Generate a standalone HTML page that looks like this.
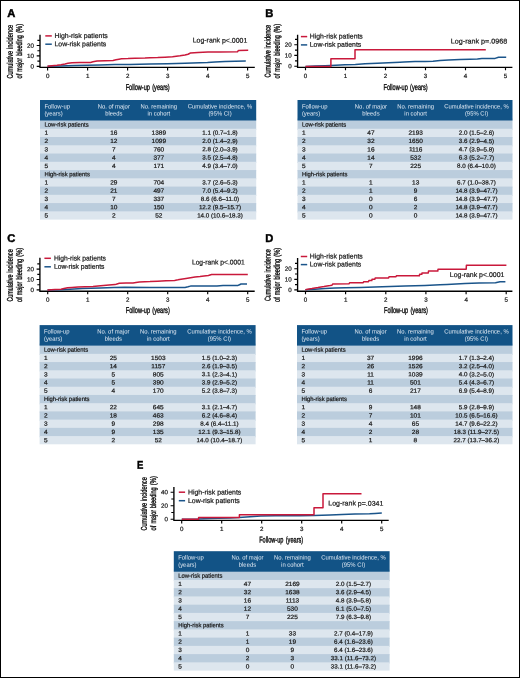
<!DOCTYPE html>
<html lang="en"><head><meta charset="utf-8"><title>Cumulative incidence of major bleeding</title>
<style>
html,body{margin:0;padding:0;background:#fff;}
body{width:520px;height:678px;position:relative;overflow:hidden;font-family:"Liberation Sans",sans-serif;}
#fig{position:absolute;left:0;top:0;width:520px;height:678px;will-change:transform;}
#fig text{font-family:"Liberation Sans",sans-serif;fill:#1a1a1a;stroke:#1a1a1a;stroke-width:0.22px;text-rendering:geometricPrecision;}
#fig g[fill] text{fill:inherit;stroke:none;}
#fig text.pl{font-weight:bold;fill:#000;stroke:#000;stroke-width:0.45px;}
#fig text.ti{fill:#111;stroke:#111;stroke-width:0.38px;}
#frame{position:absolute;left:0;top:0;width:518px;height:676px;border:1px solid #000;box-sizing:content-box;}
</style></head><body>
<svg id="fig" width="520" height="678" viewBox="0 0 520 678">
<g id="panel-A">
<rect x="40.0" y="118.50" width="216.2" height="11.46" fill="#bbcddd"/>
<rect x="40.0" y="128.76" width="216.2" height="9.46" fill="#dde6ee"/>
<rect x="40.0" y="137.02" width="216.2" height="9.46" fill="#bbcddd"/>
<rect x="40.0" y="145.28" width="216.2" height="9.46" fill="#dde6ee"/>
<rect x="40.0" y="153.53" width="216.2" height="9.46" fill="#bbcddd"/>
<rect x="40.0" y="161.79" width="216.2" height="9.46" fill="#dde6ee"/>
<rect x="40.0" y="170.05" width="216.2" height="9.46" fill="#bbcddd"/>
<rect x="40.0" y="178.31" width="216.2" height="9.46" fill="#dde6ee"/>
<rect x="40.0" y="186.57" width="216.2" height="9.46" fill="#bbcddd"/>
<rect x="40.0" y="194.82" width="216.2" height="9.46" fill="#dde6ee"/>
<rect x="40.0" y="203.08" width="216.2" height="9.46" fill="#bbcddd"/>
<rect x="40.0" y="211.34" width="216.2" height="8.26" fill="#dde6ee"/>
<rect x="40.0" y="100.0" width="216.2" height="20.5" fill="#125386"/>
<g fill="#dfe8f2">
<text transform="translate(44.40 108.40) rotate(0.05)" font-size="6.20" textLength="25.53" lengthAdjust="spacingAndGlyphs">Follow-up</text>
<text transform="translate(44.40 115.60) rotate(0.05)" font-size="6.20" textLength="18.33" lengthAdjust="spacingAndGlyphs">(years)</text>
<text transform="translate(113.80 108.40) rotate(0.05)" font-size="6.20" text-anchor="middle" textLength="32.08" lengthAdjust="spacingAndGlyphs">No. of major</text>
<text transform="translate(113.80 115.60) rotate(0.05)" font-size="6.20" text-anchor="middle" textLength="17.36" lengthAdjust="spacingAndGlyphs">bleeds</text>
<text transform="translate(158.80 108.40) rotate(0.05)" font-size="6.20" text-anchor="middle" textLength="36.67" lengthAdjust="spacingAndGlyphs">No. remaining</text>
<text transform="translate(158.80 115.60) rotate(0.05)" font-size="6.20" text-anchor="middle" textLength="22.59" lengthAdjust="spacingAndGlyphs">in cohort</text>
<text transform="translate(220.00 108.40) rotate(0.05)" font-size="6.20" text-anchor="middle" textLength="64.50" lengthAdjust="spacingAndGlyphs">Cumulative incidence, %</text>
<text transform="translate(220.00 115.60) rotate(0.05)" font-size="6.20" text-anchor="middle" textLength="23.24" lengthAdjust="spacingAndGlyphs">(95% CI)</text>
</g>
<text transform="translate(44.40 126.60) rotate(0.05)" font-size="6.20" textLength="44.19" lengthAdjust="spacingAndGlyphs">Low-risk patients</text>
<text transform="translate(44.40 134.86) rotate(0.05)" font-size="6.20" textLength="3.62" lengthAdjust="spacingAndGlyphs">1</text>
<text transform="translate(113.80 134.86) rotate(0.05)" font-size="6.20" text-anchor="middle" textLength="7.24" lengthAdjust="spacingAndGlyphs">16</text>
<text transform="translate(158.80 134.86) rotate(0.05)" font-size="6.20" text-anchor="middle" textLength="14.48" lengthAdjust="spacingAndGlyphs">1389</text>
<text transform="translate(220.00 134.86) rotate(0.05)" font-size="6.20" text-anchor="middle" textLength="35.33" lengthAdjust="spacingAndGlyphs">1.1 (0.7–1.8)</text>
<text transform="translate(44.40 143.12) rotate(0.05)" font-size="6.20" textLength="3.62" lengthAdjust="spacingAndGlyphs">2</text>
<text transform="translate(113.80 143.12) rotate(0.05)" font-size="6.20" text-anchor="middle" textLength="7.24" lengthAdjust="spacingAndGlyphs">12</text>
<text transform="translate(158.80 143.12) rotate(0.05)" font-size="6.20" text-anchor="middle" textLength="14.48" lengthAdjust="spacingAndGlyphs">1099</text>
<text transform="translate(220.00 143.12) rotate(0.05)" font-size="6.20" text-anchor="middle" textLength="35.33" lengthAdjust="spacingAndGlyphs">2.0 (1.4–2.9)</text>
<text transform="translate(44.40 151.38) rotate(0.05)" font-size="6.20" textLength="3.62" lengthAdjust="spacingAndGlyphs">3</text>
<text transform="translate(113.80 151.38) rotate(0.05)" font-size="6.20" text-anchor="middle" textLength="3.62" lengthAdjust="spacingAndGlyphs">7</text>
<text transform="translate(158.80 151.38) rotate(0.05)" font-size="6.20" text-anchor="middle" textLength="10.86" lengthAdjust="spacingAndGlyphs">760</text>
<text transform="translate(220.00 151.38) rotate(0.05)" font-size="6.20" text-anchor="middle" textLength="35.33" lengthAdjust="spacingAndGlyphs">2.8 (2.0–3.9)</text>
<text transform="translate(44.40 159.63) rotate(0.05)" font-size="6.20" textLength="3.62" lengthAdjust="spacingAndGlyphs">4</text>
<text transform="translate(113.80 159.63) rotate(0.05)" font-size="6.20" text-anchor="middle" textLength="3.62" lengthAdjust="spacingAndGlyphs">4</text>
<text transform="translate(158.80 159.63) rotate(0.05)" font-size="6.20" text-anchor="middle" textLength="10.86" lengthAdjust="spacingAndGlyphs">377</text>
<text transform="translate(220.00 159.63) rotate(0.05)" font-size="6.20" text-anchor="middle" textLength="35.33" lengthAdjust="spacingAndGlyphs">3.5 (2.5–4.8)</text>
<text transform="translate(44.40 167.89) rotate(0.05)" font-size="6.20" textLength="3.62" lengthAdjust="spacingAndGlyphs">5</text>
<text transform="translate(113.80 167.89) rotate(0.05)" font-size="6.20" text-anchor="middle" textLength="3.62" lengthAdjust="spacingAndGlyphs">4</text>
<text transform="translate(158.80 167.89) rotate(0.05)" font-size="6.20" text-anchor="middle" textLength="10.86" lengthAdjust="spacingAndGlyphs">171</text>
<text transform="translate(220.00 167.89) rotate(0.05)" font-size="6.20" text-anchor="middle" textLength="35.33" lengthAdjust="spacingAndGlyphs">4.9 (3.4–7.0)</text>
<text transform="translate(44.40 176.15) rotate(0.05)" font-size="6.20" textLength="45.50" lengthAdjust="spacingAndGlyphs">High-risk patients</text>
<text transform="translate(44.40 184.41) rotate(0.05)" font-size="6.20" textLength="3.62" lengthAdjust="spacingAndGlyphs">1</text>
<text transform="translate(113.80 184.41) rotate(0.05)" font-size="6.20" text-anchor="middle" textLength="7.24" lengthAdjust="spacingAndGlyphs">29</text>
<text transform="translate(158.80 184.41) rotate(0.05)" font-size="6.20" text-anchor="middle" textLength="10.86" lengthAdjust="spacingAndGlyphs">704</text>
<text transform="translate(220.00 184.41) rotate(0.05)" font-size="6.20" text-anchor="middle" textLength="35.33" lengthAdjust="spacingAndGlyphs">3.7 (2.6–5.3)</text>
<text transform="translate(44.40 192.67) rotate(0.05)" font-size="6.20" textLength="3.62" lengthAdjust="spacingAndGlyphs">2</text>
<text transform="translate(113.80 192.67) rotate(0.05)" font-size="6.20" text-anchor="middle" textLength="7.24" lengthAdjust="spacingAndGlyphs">21</text>
<text transform="translate(158.80 192.67) rotate(0.05)" font-size="6.20" text-anchor="middle" textLength="10.86" lengthAdjust="spacingAndGlyphs">497</text>
<text transform="translate(220.00 192.67) rotate(0.05)" font-size="6.20" text-anchor="middle" textLength="35.33" lengthAdjust="spacingAndGlyphs">7.0 (5.4–9.2)</text>
<text transform="translate(44.40 200.92) rotate(0.05)" font-size="6.20" textLength="3.62" lengthAdjust="spacingAndGlyphs">3</text>
<text transform="translate(113.80 200.92) rotate(0.05)" font-size="6.20" text-anchor="middle" textLength="3.62" lengthAdjust="spacingAndGlyphs">7</text>
<text transform="translate(158.80 200.92) rotate(0.05)" font-size="6.20" text-anchor="middle" textLength="10.86" lengthAdjust="spacingAndGlyphs">337</text>
<text transform="translate(220.00 200.92) rotate(0.05)" font-size="6.20" text-anchor="middle" textLength="38.34" lengthAdjust="spacingAndGlyphs">8.6 (6.6–11.0)</text>
<text transform="translate(44.40 209.18) rotate(0.05)" font-size="6.20" textLength="3.62" lengthAdjust="spacingAndGlyphs">4</text>
<text transform="translate(113.80 209.18) rotate(0.05)" font-size="6.20" text-anchor="middle" textLength="7.24" lengthAdjust="spacingAndGlyphs">10</text>
<text transform="translate(158.80 209.18) rotate(0.05)" font-size="6.20" text-anchor="middle" textLength="10.86" lengthAdjust="spacingAndGlyphs">150</text>
<text transform="translate(220.00 209.18) rotate(0.05)" font-size="6.20" text-anchor="middle" textLength="42.26" lengthAdjust="spacingAndGlyphs">12.2 (9.5–15.7)</text>
<text transform="translate(44.40 217.44) rotate(0.05)" font-size="6.20" textLength="3.62" lengthAdjust="spacingAndGlyphs">5</text>
<text transform="translate(113.80 217.44) rotate(0.05)" font-size="6.20" text-anchor="middle" textLength="3.62" lengthAdjust="spacingAndGlyphs">2</text>
<text transform="translate(158.80 217.44) rotate(0.05)" font-size="6.20" text-anchor="middle" textLength="7.24" lengthAdjust="spacingAndGlyphs">52</text>
<text transform="translate(220.00 217.44) rotate(0.05)" font-size="6.20" text-anchor="middle" textLength="45.73" lengthAdjust="spacingAndGlyphs">14.0 (10.6–18.3)</text>
<path d="M40.0 34.8 V67.4 H254.8" stroke="#000" stroke-width="1.35" fill="none"/>
<path d="M36.7 66.3 H40.0 M36.7 55.9 H40.0 M36.7 45.5 H40.0 M37.4 61.1 H40.0 M37.4 50.7 H40.0 M37.4 40.3 H40.0 M47.6 67.4 V70.4 M87.6 67.4 V70.4 M127.6 67.4 V70.4 M167.6 67.4 V70.4 M207.6 67.4 V70.4 M247.6 67.4 V70.4" stroke="#000" stroke-width="1.15" fill="none"/>
<path d="M47.6 66.3 L60.0 65.9 L75.0 65.5 L87.5 65.2 L100.0 64.9 L115.0 64.6 L130.0 64.4 L150.0 64.0 L167.5 63.7 L185.0 63.3 L200.0 62.8 L207.5 62.5 L215.0 62.0 L225.0 61.4 L235.0 61.3 L245.8 61.1" stroke="#1a548a" stroke-width="1.5" stroke-linejoin="round" fill="none"/>
<path d="M47.5 66.3 L52.0 65.7 L57.0 65.2 L61.0 64.7 L65.0 63.9 L68.0 63.2 L72.0 62.7 L80.0 62.5 L90.5 62.4 L93.0 61.8 L97.0 61.0 L105.0 60.8 L113.0 60.5 L116.0 59.8 L119.0 59.2 L121.5 58.8 L128.0 58.6 L135.0 58.2 L145.0 58.1 L150.0 57.8 L157.7 57.6 L165.0 57.2 L172.5 56.7 L180.0 55.8 L185.0 55.0 L188.0 54.2 L189.5 53.5 L190.5 52.9 L198.0 52.5 L208.0 52.0 L220.0 51.9 L237.5 51.8 L238.5 50.4 L248.2 50.2" stroke="#c9193b" stroke-width="1.5" stroke-linejoin="round" fill="none"/>
<path d="M45.3 35.9 H51.8" stroke="#c9193b" stroke-width="1.5"/>
<path d="M45.3 44.2 H51.8" stroke="#1a548a" stroke-width="1.5"/>
<text transform="translate(54.50 38.00) rotate(0.05)" font-size="6.90" textLength="53.30" lengthAdjust="spacingAndGlyphs">High-risk patients</text>
<text transform="translate(54.50 46.30) rotate(0.05)" font-size="6.90" textLength="51.77" lengthAdjust="spacingAndGlyphs">Low-risk patients</text>
<text transform="translate(192.70 42.60) rotate(0.05)" font-size="6.90" textLength="54.60" lengthAdjust="spacingAndGlyphs">Log-rank p&lt;.0001</text>
<text transform="translate(7.2 17.0) rotate(0.05)" font-size="11.2" class="pl">A</text>
<text transform="translate(34.00 68.40) rotate(0.05)" font-size="6.20" text-anchor="end">0</text>
<text transform="translate(34.00 58.02) rotate(0.05)" font-size="6.20" text-anchor="end">10</text>
<text transform="translate(34.00 47.64) rotate(0.05)" font-size="6.20" text-anchor="end">20</text>
<text transform="translate(47.60 78.00) rotate(0.05)" font-size="6.20" text-anchor="middle">0</text>
<text transform="translate(87.60 78.00) rotate(0.05)" font-size="6.20" text-anchor="middle">1</text>
<text transform="translate(127.60 78.00) rotate(0.05)" font-size="6.20" text-anchor="middle">2</text>
<text transform="translate(167.60 78.00) rotate(0.05)" font-size="6.20" text-anchor="middle">3</text>
<text transform="translate(207.60 78.00) rotate(0.05)" font-size="6.20" text-anchor="middle">4</text>
<text transform="translate(247.60 78.00) rotate(0.05)" font-size="6.20" text-anchor="middle">5</text>
<text transform="translate(125.70 90.00) rotate(0.05)" font-size="8.30" textLength="24.20" lengthAdjust="spacingAndGlyphs" class="ti">Follow-up</text>
<text transform="translate(152.20 90.00) rotate(0.05)" font-size="8.30" textLength="17.50" lengthAdjust="spacingAndGlyphs" class="ti">(years)</text>
<text transform="translate(12.70 78.50) rotate(-89.95)" font-size="8.30" textLength="27.70" lengthAdjust="spacingAndGlyphs" class="ti">Cumulative</text>
<text transform="translate(12.70 48.99) rotate(-89.95)" font-size="8.30" textLength="24.19" lengthAdjust="spacingAndGlyphs" class="ti">incidence</text>
<text transform="translate(22.00 78.50) rotate(-89.95)" font-size="8.30" textLength="4.77" lengthAdjust="spacingAndGlyphs" class="ti">of</text>
<text transform="translate(22.00 71.64) rotate(-89.95)" font-size="8.30" textLength="13.72" lengthAdjust="spacingAndGlyphs" class="ti">major</text>
<text transform="translate(22.00 55.82) rotate(-89.95)" font-size="8.30" textLength="20.69" lengthAdjust="spacingAndGlyphs" class="ti">bleeding</text>
<text transform="translate(22.00 32.85) rotate(-89.95)" font-size="8.30" textLength="9.05" lengthAdjust="spacingAndGlyphs" class="ti">(%)</text>
</g>
<g id="panel-B">
<rect x="297.5" y="118.50" width="215.0" height="11.46" fill="#bbcddd"/>
<rect x="297.5" y="128.76" width="215.0" height="9.46" fill="#dde6ee"/>
<rect x="297.5" y="137.02" width="215.0" height="9.46" fill="#bbcddd"/>
<rect x="297.5" y="145.28" width="215.0" height="9.46" fill="#dde6ee"/>
<rect x="297.5" y="153.53" width="215.0" height="9.46" fill="#bbcddd"/>
<rect x="297.5" y="161.79" width="215.0" height="9.46" fill="#dde6ee"/>
<rect x="297.5" y="170.05" width="215.0" height="9.46" fill="#bbcddd"/>
<rect x="297.5" y="178.31" width="215.0" height="9.46" fill="#dde6ee"/>
<rect x="297.5" y="186.57" width="215.0" height="9.46" fill="#bbcddd"/>
<rect x="297.5" y="194.82" width="215.0" height="9.46" fill="#dde6ee"/>
<rect x="297.5" y="203.08" width="215.0" height="9.46" fill="#bbcddd"/>
<rect x="297.5" y="211.34" width="215.0" height="8.26" fill="#dde6ee"/>
<rect x="297.5" y="100.0" width="215.0" height="20.5" fill="#125386"/>
<g fill="#dfe8f2">
<text transform="translate(301.90 108.40) rotate(0.05)" font-size="6.20" textLength="25.53" lengthAdjust="spacingAndGlyphs">Follow-up</text>
<text transform="translate(301.90 115.60) rotate(0.05)" font-size="6.20" textLength="18.33" lengthAdjust="spacingAndGlyphs">(years)</text>
<text transform="translate(370.89 108.40) rotate(0.05)" font-size="6.20" text-anchor="middle" textLength="32.08" lengthAdjust="spacingAndGlyphs">No. of major</text>
<text transform="translate(370.89 115.60) rotate(0.05)" font-size="6.20" text-anchor="middle" textLength="17.36" lengthAdjust="spacingAndGlyphs">bleeds</text>
<text transform="translate(415.64 108.40) rotate(0.05)" font-size="6.20" text-anchor="middle" textLength="36.67" lengthAdjust="spacingAndGlyphs">No. remaining</text>
<text transform="translate(415.64 115.60) rotate(0.05)" font-size="6.20" text-anchor="middle" textLength="22.59" lengthAdjust="spacingAndGlyphs">in cohort</text>
<text transform="translate(476.50 108.40) rotate(0.05)" font-size="6.20" text-anchor="middle" textLength="64.50" lengthAdjust="spacingAndGlyphs">Cumulative incidence, %</text>
<text transform="translate(476.50 115.60) rotate(0.05)" font-size="6.20" text-anchor="middle" textLength="23.24" lengthAdjust="spacingAndGlyphs">(95% CI)</text>
</g>
<text transform="translate(301.90 126.60) rotate(0.05)" font-size="6.20" textLength="44.19" lengthAdjust="spacingAndGlyphs">Low-risk patients</text>
<text transform="translate(301.90 134.86) rotate(0.05)" font-size="6.20" textLength="3.62" lengthAdjust="spacingAndGlyphs">1</text>
<text transform="translate(370.89 134.86) rotate(0.05)" font-size="6.20" text-anchor="middle" textLength="7.24" lengthAdjust="spacingAndGlyphs">47</text>
<text transform="translate(415.64 134.86) rotate(0.05)" font-size="6.20" text-anchor="middle" textLength="14.48" lengthAdjust="spacingAndGlyphs">2193</text>
<text transform="translate(476.50 134.86) rotate(0.05)" font-size="6.20" text-anchor="middle" textLength="35.33" lengthAdjust="spacingAndGlyphs">2.0 (1.5–2.6)</text>
<text transform="translate(301.90 143.12) rotate(0.05)" font-size="6.20" textLength="3.62" lengthAdjust="spacingAndGlyphs">2</text>
<text transform="translate(370.89 143.12) rotate(0.05)" font-size="6.20" text-anchor="middle" textLength="7.24" lengthAdjust="spacingAndGlyphs">32</text>
<text transform="translate(415.64 143.12) rotate(0.05)" font-size="6.20" text-anchor="middle" textLength="14.48" lengthAdjust="spacingAndGlyphs">1650</text>
<text transform="translate(476.50 143.12) rotate(0.05)" font-size="6.20" text-anchor="middle" textLength="35.33" lengthAdjust="spacingAndGlyphs">3.6 (2.9–4.5)</text>
<text transform="translate(301.90 151.38) rotate(0.05)" font-size="6.20" textLength="3.62" lengthAdjust="spacingAndGlyphs">3</text>
<text transform="translate(370.89 151.38) rotate(0.05)" font-size="6.20" text-anchor="middle" textLength="7.24" lengthAdjust="spacingAndGlyphs">16</text>
<text transform="translate(415.64 151.38) rotate(0.05)" font-size="6.20" text-anchor="middle" textLength="13.52" lengthAdjust="spacingAndGlyphs">1116</text>
<text transform="translate(476.50 151.38) rotate(0.05)" font-size="6.20" text-anchor="middle" textLength="35.33" lengthAdjust="spacingAndGlyphs">4.7 (3.9–5.8)</text>
<text transform="translate(301.90 159.63) rotate(0.05)" font-size="6.20" textLength="3.62" lengthAdjust="spacingAndGlyphs">4</text>
<text transform="translate(370.89 159.63) rotate(0.05)" font-size="6.20" text-anchor="middle" textLength="7.24" lengthAdjust="spacingAndGlyphs">14</text>
<text transform="translate(415.64 159.63) rotate(0.05)" font-size="6.20" text-anchor="middle" textLength="10.86" lengthAdjust="spacingAndGlyphs">532</text>
<text transform="translate(476.50 159.63) rotate(0.05)" font-size="6.20" text-anchor="middle" textLength="35.33" lengthAdjust="spacingAndGlyphs">6.3 (5.2–7.7)</text>
<text transform="translate(301.90 167.89) rotate(0.05)" font-size="6.20" textLength="3.62" lengthAdjust="spacingAndGlyphs">5</text>
<text transform="translate(370.89 167.89) rotate(0.05)" font-size="6.20" text-anchor="middle" textLength="3.62" lengthAdjust="spacingAndGlyphs">7</text>
<text transform="translate(415.64 167.89) rotate(0.05)" font-size="6.20" text-anchor="middle" textLength="10.86" lengthAdjust="spacingAndGlyphs">225</text>
<text transform="translate(476.50 167.89) rotate(0.05)" font-size="6.20" text-anchor="middle" textLength="38.80" lengthAdjust="spacingAndGlyphs">8.0 (6.4–10.0)</text>
<text transform="translate(301.90 176.15) rotate(0.05)" font-size="6.20" textLength="45.50" lengthAdjust="spacingAndGlyphs">High-risk patients</text>
<text transform="translate(301.90 184.41) rotate(0.05)" font-size="6.20" textLength="3.62" lengthAdjust="spacingAndGlyphs">1</text>
<text transform="translate(370.89 184.41) rotate(0.05)" font-size="6.20" text-anchor="middle" textLength="3.62" lengthAdjust="spacingAndGlyphs">1</text>
<text transform="translate(415.64 184.41) rotate(0.05)" font-size="6.20" text-anchor="middle" textLength="7.24" lengthAdjust="spacingAndGlyphs">13</text>
<text transform="translate(476.50 184.41) rotate(0.05)" font-size="6.20" text-anchor="middle" textLength="38.80" lengthAdjust="spacingAndGlyphs">6.7 (1.0–38.7)</text>
<text transform="translate(301.90 192.67) rotate(0.05)" font-size="6.20" textLength="3.62" lengthAdjust="spacingAndGlyphs">2</text>
<text transform="translate(370.89 192.67) rotate(0.05)" font-size="6.20" text-anchor="middle" textLength="3.62" lengthAdjust="spacingAndGlyphs">1</text>
<text transform="translate(415.64 192.67) rotate(0.05)" font-size="6.20" text-anchor="middle" textLength="3.62" lengthAdjust="spacingAndGlyphs">9</text>
<text transform="translate(476.50 192.67) rotate(0.05)" font-size="6.20" text-anchor="middle" textLength="42.26" lengthAdjust="spacingAndGlyphs">14.8 (3.9–47.7)</text>
<text transform="translate(301.90 200.92) rotate(0.05)" font-size="6.20" textLength="3.62" lengthAdjust="spacingAndGlyphs">3</text>
<text transform="translate(370.89 200.92) rotate(0.05)" font-size="6.20" text-anchor="middle" textLength="3.62" lengthAdjust="spacingAndGlyphs">0</text>
<text transform="translate(415.64 200.92) rotate(0.05)" font-size="6.20" text-anchor="middle" textLength="3.62" lengthAdjust="spacingAndGlyphs">6</text>
<text transform="translate(476.50 200.92) rotate(0.05)" font-size="6.20" text-anchor="middle" textLength="42.26" lengthAdjust="spacingAndGlyphs">14.8 (3.9–47.7)</text>
<text transform="translate(301.90 209.18) rotate(0.05)" font-size="6.20" textLength="3.62" lengthAdjust="spacingAndGlyphs">4</text>
<text transform="translate(370.89 209.18) rotate(0.05)" font-size="6.20" text-anchor="middle" textLength="3.62" lengthAdjust="spacingAndGlyphs">0</text>
<text transform="translate(415.64 209.18) rotate(0.05)" font-size="6.20" text-anchor="middle" textLength="3.62" lengthAdjust="spacingAndGlyphs">2</text>
<text transform="translate(476.50 209.18) rotate(0.05)" font-size="6.20" text-anchor="middle" textLength="42.26" lengthAdjust="spacingAndGlyphs">14.8 (3.9–47.7)</text>
<text transform="translate(301.90 217.44) rotate(0.05)" font-size="6.20" textLength="3.62" lengthAdjust="spacingAndGlyphs">5</text>
<text transform="translate(370.89 217.44) rotate(0.05)" font-size="6.20" text-anchor="middle" textLength="3.62" lengthAdjust="spacingAndGlyphs">0</text>
<text transform="translate(415.64 217.44) rotate(0.05)" font-size="6.20" text-anchor="middle" textLength="3.62" lengthAdjust="spacingAndGlyphs">0</text>
<text transform="translate(476.50 217.44) rotate(0.05)" font-size="6.20" text-anchor="middle" textLength="42.26" lengthAdjust="spacingAndGlyphs">14.8 (3.9–47.7)</text>
<path d="M297.6 34.8 V67.3 H512.4" stroke="#000" stroke-width="1.35" fill="none"/>
<path d="M294.3 66.2 H297.6 M294.3 55.4 H297.6 M294.3 44.7 H297.6 M295.0 60.8 H297.6 M295.0 50.1 H297.6 M295.0 39.3 H297.6 M305.5 67.3 V70.3 M345.5 67.3 V70.3 M385.5 67.3 V70.3 M425.5 67.3 V70.3 M465.5 67.3 V70.3 M505.5 67.3 V70.3" stroke="#000" stroke-width="1.15" fill="none"/>
<path d="M305.5 66.4 L315.0 66.1 L325.0 65.7 L331.0 65.5 L345.0 64.8 L355.3 64.4 L365.0 63.8 L377.4 63.2 L388.5 62.8 L400.0 62.3 L404.0 62.1 L415.0 61.6 L425.0 61.4 L433.0 61.2 L440.0 60.6 L448.7 59.9 L460.0 59.5 L470.0 59.2 L477.4 59.0 L481.9 58.4 L495.1 58.4 L498.5 57.3 L506.2 57.3" stroke="#1a548a" stroke-width="1.5" stroke-linejoin="round" fill="none"/>
<path d="M305.5 66.4 L330.9 66.4 L330.9 58.8 L355.0 58.8 L355.0 49.7 L485.8 49.7" stroke="#c9193b" stroke-width="1.5" stroke-linejoin="round" fill="none"/>
<path d="M300.9 36.6 H307.2" stroke="#c9193b" stroke-width="1.5"/>
<path d="M300.9 44.9 H307.2" stroke="#1a548a" stroke-width="1.5"/>
<text transform="translate(309.80 38.40) rotate(0.05)" font-size="6.90" textLength="53.00" lengthAdjust="spacingAndGlyphs">High-risk patients</text>
<text transform="translate(309.80 46.70) rotate(0.05)" font-size="6.90" textLength="51.48" lengthAdjust="spacingAndGlyphs">Low-risk patients</text>
<text transform="translate(450.80 43.40) rotate(0.05)" font-size="6.90" textLength="56.40" lengthAdjust="spacingAndGlyphs">Log-rank p=.0968</text>
<text transform="translate(265.2 17.0) rotate(0.05)" font-size="11.2" class="pl">B</text>
<text transform="translate(291.60 68.30) rotate(0.05)" font-size="6.20" text-anchor="end">0</text>
<text transform="translate(291.60 57.54) rotate(0.05)" font-size="6.20" text-anchor="end">10</text>
<text transform="translate(291.60 46.78) rotate(0.05)" font-size="6.20" text-anchor="end">20</text>
<text transform="translate(305.50 77.90) rotate(0.05)" font-size="6.20" text-anchor="middle">0</text>
<text transform="translate(345.50 77.90) rotate(0.05)" font-size="6.20" text-anchor="middle">1</text>
<text transform="translate(385.50 77.90) rotate(0.05)" font-size="6.20" text-anchor="middle">2</text>
<text transform="translate(425.50 77.90) rotate(0.05)" font-size="6.20" text-anchor="middle">3</text>
<text transform="translate(465.50 77.90) rotate(0.05)" font-size="6.20" text-anchor="middle">4</text>
<text transform="translate(505.50 77.90) rotate(0.05)" font-size="6.20" text-anchor="middle">5</text>
<text transform="translate(383.60 89.90) rotate(0.05)" font-size="8.30" textLength="24.20" lengthAdjust="spacingAndGlyphs" class="ti">Follow-up</text>
<text transform="translate(410.10 89.90) rotate(0.05)" font-size="8.30" textLength="17.50" lengthAdjust="spacingAndGlyphs" class="ti">(years)</text>
<text transform="translate(270.50 77.50) rotate(-89.95)" font-size="8.30" textLength="27.19" lengthAdjust="spacingAndGlyphs" class="ti">Cumulative</text>
<text transform="translate(270.50 48.54) rotate(-89.95)" font-size="8.30" textLength="23.74" lengthAdjust="spacingAndGlyphs" class="ti">incidence</text>
<text transform="translate(279.70 78.50) rotate(-89.95)" font-size="8.30" textLength="4.77" lengthAdjust="spacingAndGlyphs" class="ti">of</text>
<text transform="translate(279.70 71.64) rotate(-89.95)" font-size="8.30" textLength="13.72" lengthAdjust="spacingAndGlyphs" class="ti">major</text>
<text transform="translate(279.70 55.82) rotate(-89.95)" font-size="8.30" textLength="20.69" lengthAdjust="spacingAndGlyphs" class="ti">bleeding</text>
<text transform="translate(279.70 32.85) rotate(-89.95)" font-size="8.30" textLength="9.05" lengthAdjust="spacingAndGlyphs" class="ti">(%)</text>
</g>
<g id="panel-C">
<rect x="39.6" y="343.60" width="216.0" height="11.43" fill="#bbcddd"/>
<rect x="39.6" y="353.83" width="216.0" height="9.42" fill="#dde6ee"/>
<rect x="39.6" y="362.05" width="216.0" height="9.43" fill="#bbcddd"/>
<rect x="39.6" y="370.28" width="216.0" height="9.42" fill="#dde6ee"/>
<rect x="39.6" y="378.50" width="216.0" height="9.43" fill="#bbcddd"/>
<rect x="39.6" y="386.73" width="216.0" height="9.43" fill="#dde6ee"/>
<rect x="39.6" y="394.95" width="216.0" height="9.42" fill="#bbcddd"/>
<rect x="39.6" y="403.18" width="216.0" height="9.43" fill="#dde6ee"/>
<rect x="39.6" y="411.40" width="216.0" height="9.42" fill="#bbcddd"/>
<rect x="39.6" y="419.62" width="216.0" height="9.43" fill="#dde6ee"/>
<rect x="39.6" y="427.85" width="216.0" height="9.43" fill="#bbcddd"/>
<rect x="39.6" y="436.08" width="216.0" height="8.22" fill="#dde6ee"/>
<rect x="39.6" y="325.1" width="216.0" height="20.5" fill="#125386"/>
<g fill="#dfe8f2">
<text transform="translate(44.00 333.50) rotate(0.05)" font-size="6.20" textLength="25.53" lengthAdjust="spacingAndGlyphs">Follow-up</text>
<text transform="translate(44.00 340.70) rotate(0.05)" font-size="6.20" textLength="18.33" lengthAdjust="spacingAndGlyphs">(years)</text>
<text transform="translate(113.33 333.50) rotate(0.05)" font-size="6.20" text-anchor="middle" textLength="32.08" lengthAdjust="spacingAndGlyphs">No. of major</text>
<text transform="translate(113.33 340.70) rotate(0.05)" font-size="6.20" text-anchor="middle" textLength="17.36" lengthAdjust="spacingAndGlyphs">bleeds</text>
<text transform="translate(158.29 333.50) rotate(0.05)" font-size="6.20" text-anchor="middle" textLength="36.67" lengthAdjust="spacingAndGlyphs">No. remaining</text>
<text transform="translate(158.29 340.70) rotate(0.05)" font-size="6.20" text-anchor="middle" textLength="22.59" lengthAdjust="spacingAndGlyphs">in cohort</text>
<text transform="translate(219.43 333.50) rotate(0.05)" font-size="6.20" text-anchor="middle" textLength="64.50" lengthAdjust="spacingAndGlyphs">Cumulative incidence, %</text>
<text transform="translate(219.43 340.70) rotate(0.05)" font-size="6.20" text-anchor="middle" textLength="23.24" lengthAdjust="spacingAndGlyphs">(95% CI)</text>
</g>
<text transform="translate(44.00 351.70) rotate(0.05)" font-size="6.20" textLength="44.19" lengthAdjust="spacingAndGlyphs">Low-risk patients</text>
<text transform="translate(44.00 359.93) rotate(0.05)" font-size="6.20" textLength="3.62" lengthAdjust="spacingAndGlyphs">1</text>
<text transform="translate(113.33 359.93) rotate(0.05)" font-size="6.20" text-anchor="middle" textLength="7.24" lengthAdjust="spacingAndGlyphs">25</text>
<text transform="translate(158.29 359.93) rotate(0.05)" font-size="6.20" text-anchor="middle" textLength="14.48" lengthAdjust="spacingAndGlyphs">1503</text>
<text transform="translate(219.43 359.93) rotate(0.05)" font-size="6.20" text-anchor="middle" textLength="35.33" lengthAdjust="spacingAndGlyphs">1.5 (1.0–2.3)</text>
<text transform="translate(44.00 368.15) rotate(0.05)" font-size="6.20" textLength="3.62" lengthAdjust="spacingAndGlyphs">2</text>
<text transform="translate(113.33 368.15) rotate(0.05)" font-size="6.20" text-anchor="middle" textLength="7.24" lengthAdjust="spacingAndGlyphs">14</text>
<text transform="translate(158.29 368.15) rotate(0.05)" font-size="6.20" text-anchor="middle" textLength="14.00" lengthAdjust="spacingAndGlyphs">1157</text>
<text transform="translate(219.43 368.15) rotate(0.05)" font-size="6.20" text-anchor="middle" textLength="35.33" lengthAdjust="spacingAndGlyphs">2.6 (1.9–3.5)</text>
<text transform="translate(44.00 376.38) rotate(0.05)" font-size="6.20" textLength="3.62" lengthAdjust="spacingAndGlyphs">3</text>
<text transform="translate(113.33 376.38) rotate(0.05)" font-size="6.20" text-anchor="middle" textLength="3.62" lengthAdjust="spacingAndGlyphs">5</text>
<text transform="translate(158.29 376.38) rotate(0.05)" font-size="6.20" text-anchor="middle" textLength="10.86" lengthAdjust="spacingAndGlyphs">805</text>
<text transform="translate(219.43 376.38) rotate(0.05)" font-size="6.20" text-anchor="middle" textLength="35.33" lengthAdjust="spacingAndGlyphs">3.1 (2.3–4.1)</text>
<text transform="translate(44.00 384.60) rotate(0.05)" font-size="6.20" textLength="3.62" lengthAdjust="spacingAndGlyphs">4</text>
<text transform="translate(113.33 384.60) rotate(0.05)" font-size="6.20" text-anchor="middle" textLength="3.62" lengthAdjust="spacingAndGlyphs">5</text>
<text transform="translate(158.29 384.60) rotate(0.05)" font-size="6.20" text-anchor="middle" textLength="10.86" lengthAdjust="spacingAndGlyphs">390</text>
<text transform="translate(219.43 384.60) rotate(0.05)" font-size="6.20" text-anchor="middle" textLength="35.33" lengthAdjust="spacingAndGlyphs">3.9 (2.9–5.2)</text>
<text transform="translate(44.00 392.83) rotate(0.05)" font-size="6.20" textLength="3.62" lengthAdjust="spacingAndGlyphs">5</text>
<text transform="translate(113.33 392.83) rotate(0.05)" font-size="6.20" text-anchor="middle" textLength="3.62" lengthAdjust="spacingAndGlyphs">4</text>
<text transform="translate(158.29 392.83) rotate(0.05)" font-size="6.20" text-anchor="middle" textLength="10.86" lengthAdjust="spacingAndGlyphs">170</text>
<text transform="translate(219.43 392.83) rotate(0.05)" font-size="6.20" text-anchor="middle" textLength="35.33" lengthAdjust="spacingAndGlyphs">5.2 (3.8–7.3)</text>
<text transform="translate(44.00 401.05) rotate(0.05)" font-size="6.20" textLength="45.50" lengthAdjust="spacingAndGlyphs">High-risk patients</text>
<text transform="translate(44.00 409.28) rotate(0.05)" font-size="6.20" textLength="3.62" lengthAdjust="spacingAndGlyphs">1</text>
<text transform="translate(113.33 409.28) rotate(0.05)" font-size="6.20" text-anchor="middle" textLength="7.24" lengthAdjust="spacingAndGlyphs">22</text>
<text transform="translate(158.29 409.28) rotate(0.05)" font-size="6.20" text-anchor="middle" textLength="10.86" lengthAdjust="spacingAndGlyphs">645</text>
<text transform="translate(219.43 409.28) rotate(0.05)" font-size="6.20" text-anchor="middle" textLength="35.33" lengthAdjust="spacingAndGlyphs">3.1 (2.1–4.7)</text>
<text transform="translate(44.00 417.50) rotate(0.05)" font-size="6.20" textLength="3.62" lengthAdjust="spacingAndGlyphs">2</text>
<text transform="translate(113.33 417.50) rotate(0.05)" font-size="6.20" text-anchor="middle" textLength="7.24" lengthAdjust="spacingAndGlyphs">18</text>
<text transform="translate(158.29 417.50) rotate(0.05)" font-size="6.20" text-anchor="middle" textLength="10.86" lengthAdjust="spacingAndGlyphs">463</text>
<text transform="translate(219.43 417.50) rotate(0.05)" font-size="6.20" text-anchor="middle" textLength="35.33" lengthAdjust="spacingAndGlyphs">6.2 (4.6–8.4)</text>
<text transform="translate(44.00 425.73) rotate(0.05)" font-size="6.20" textLength="3.62" lengthAdjust="spacingAndGlyphs">3</text>
<text transform="translate(113.33 425.73) rotate(0.05)" font-size="6.20" text-anchor="middle" textLength="3.62" lengthAdjust="spacingAndGlyphs">9</text>
<text transform="translate(158.29 425.73) rotate(0.05)" font-size="6.20" text-anchor="middle" textLength="10.86" lengthAdjust="spacingAndGlyphs">298</text>
<text transform="translate(219.43 425.73) rotate(0.05)" font-size="6.20" text-anchor="middle" textLength="38.34" lengthAdjust="spacingAndGlyphs">8.4 (6.4–11.1)</text>
<text transform="translate(44.00 433.95) rotate(0.05)" font-size="6.20" textLength="3.62" lengthAdjust="spacingAndGlyphs">4</text>
<text transform="translate(113.33 433.95) rotate(0.05)" font-size="6.20" text-anchor="middle" textLength="3.62" lengthAdjust="spacingAndGlyphs">9</text>
<text transform="translate(158.29 433.95) rotate(0.05)" font-size="6.20" text-anchor="middle" textLength="10.86" lengthAdjust="spacingAndGlyphs">135</text>
<text transform="translate(219.43 433.95) rotate(0.05)" font-size="6.20" text-anchor="middle" textLength="42.26" lengthAdjust="spacingAndGlyphs">12.1 (9.3–15.8)</text>
<text transform="translate(44.00 442.18) rotate(0.05)" font-size="6.20" textLength="3.62" lengthAdjust="spacingAndGlyphs">5</text>
<text transform="translate(113.33 442.18) rotate(0.05)" font-size="6.20" text-anchor="middle" textLength="3.62" lengthAdjust="spacingAndGlyphs">2</text>
<text transform="translate(158.29 442.18) rotate(0.05)" font-size="6.20" text-anchor="middle" textLength="7.24" lengthAdjust="spacingAndGlyphs">52</text>
<text transform="translate(219.43 442.18) rotate(0.05)" font-size="6.20" text-anchor="middle" textLength="45.73" lengthAdjust="spacingAndGlyphs">14.0 (10.4–18.7)</text>
<path d="M39.9 257.8 V291.2 H254.7" stroke="#000" stroke-width="1.35" fill="none"/>
<path d="M36.6 289.9 H39.9 M36.6 279.5 H39.9 M36.6 269.1 H39.9 M37.3 284.7 H39.9 M37.3 274.3 H39.9 M37.3 263.8 H39.9 M47.7 291.2 V294.2 M87.7 291.2 V294.2 M127.7 291.2 V294.2 M167.7 291.2 V294.2 M207.7 291.2 V294.2 M247.7 291.2 V294.2" stroke="#000" stroke-width="1.15" fill="none"/>
<path d="M47.5 290.0 L61.0 289.8 L70.0 289.2 L82.3 288.6 L100.0 288.1 L114.0 287.6 L124.6 287.3 L150.0 287.4 L185.0 287.5 L188.0 286.8 L190.5 286.1 L217.0 286.1 L220.0 285.8 L223.0 285.5 L238.0 285.4 L239.5 284.7 L241.0 284.0 L247.0 284.0" stroke="#1a548a" stroke-width="1.5" stroke-linejoin="round" fill="none"/>
<path d="M47.5 290.0 L55.0 289.6 L61.0 289.2 L64.0 288.5 L67.5 287.8 L72.0 287.5 L78.0 287.1 L85.0 286.8 L93.0 286.5 L98.0 286.0 L103.5 285.5 L109.0 285.1 L115.0 284.6 L117.0 284.0 L119.3 283.3 L126.0 283.1 L133.0 282.9 L136.0 282.4 L139.4 281.9 L150.0 281.6 L157.7 281.2 L166.0 280.8 L174.6 280.4 L178.0 279.8 L181.0 279.2 L186.0 278.4 L190.5 277.7 L195.0 277.1 L200.0 276.6 L204.0 276.1 L208.4 275.5 L210.0 275.0 L211.6 274.5 L247.8 274.5" stroke="#c9193b" stroke-width="1.5" stroke-linejoin="round" fill="none"/>
<path d="M44.4 258.3 H50.9" stroke="#c9193b" stroke-width="1.5"/>
<path d="M44.4 266.8 H50.9" stroke="#1a548a" stroke-width="1.5"/>
<text transform="translate(53.90 260.40) rotate(0.05)" font-size="6.90" textLength="52.00" lengthAdjust="spacingAndGlyphs">High-risk patients</text>
<text transform="translate(53.90 268.70) rotate(0.05)" font-size="6.90" textLength="50.50" lengthAdjust="spacingAndGlyphs">Low-risk patients</text>
<text transform="translate(191.90 264.40) rotate(0.05)" font-size="6.90" textLength="52.80" lengthAdjust="spacingAndGlyphs">Log-rank p&lt;.0001</text>
<text transform="translate(7.2 242.0) rotate(0.05)" font-size="11.2" class="pl">C</text>
<text transform="translate(33.90 292.00) rotate(0.05)" font-size="6.20" text-anchor="end">0</text>
<text transform="translate(33.90 281.58) rotate(0.05)" font-size="6.20" text-anchor="end">10</text>
<text transform="translate(33.90 271.16) rotate(0.05)" font-size="6.20" text-anchor="end">20</text>
<text transform="translate(47.70 301.80) rotate(0.05)" font-size="6.20" text-anchor="middle">0</text>
<text transform="translate(87.70 301.80) rotate(0.05)" font-size="6.20" text-anchor="middle">1</text>
<text transform="translate(127.70 301.80) rotate(0.05)" font-size="6.20" text-anchor="middle">2</text>
<text transform="translate(167.70 301.80) rotate(0.05)" font-size="6.20" text-anchor="middle">3</text>
<text transform="translate(207.70 301.80) rotate(0.05)" font-size="6.20" text-anchor="middle">4</text>
<text transform="translate(247.70 301.80) rotate(0.05)" font-size="6.20" text-anchor="middle">5</text>
<text transform="translate(125.80 313.10) rotate(0.05)" font-size="8.30" textLength="24.20" lengthAdjust="spacingAndGlyphs" class="ti">Follow-up</text>
<text transform="translate(152.30 313.10) rotate(0.05)" font-size="8.30" textLength="17.50" lengthAdjust="spacingAndGlyphs" class="ti">(years)</text>
<text transform="translate(12.80 301.55) rotate(-89.95)" font-size="8.30" textLength="26.98" lengthAdjust="spacingAndGlyphs" class="ti">Cumulative</text>
<text transform="translate(12.80 272.81) rotate(-89.95)" font-size="8.30" textLength="23.56" lengthAdjust="spacingAndGlyphs" class="ti">incidence</text>
<text transform="translate(22.00 302.00) rotate(-89.95)" font-size="8.30" textLength="4.73" lengthAdjust="spacingAndGlyphs" class="ti">of</text>
<text transform="translate(22.00 295.20) rotate(-89.95)" font-size="8.30" textLength="13.60" lengthAdjust="spacingAndGlyphs" class="ti">major</text>
<text transform="translate(22.00 279.53) rotate(-89.95)" font-size="8.30" textLength="20.50" lengthAdjust="spacingAndGlyphs" class="ti">bleeding</text>
<text transform="translate(22.00 256.77) rotate(-89.95)" font-size="8.30" textLength="8.97" lengthAdjust="spacingAndGlyphs" class="ti">(%)</text>
</g>
<g id="panel-D">
<rect x="297.0" y="343.60" width="215.5" height="11.43" fill="#bbcddd"/>
<rect x="297.0" y="353.83" width="215.5" height="9.42" fill="#dde6ee"/>
<rect x="297.0" y="362.05" width="215.5" height="9.43" fill="#bbcddd"/>
<rect x="297.0" y="370.28" width="215.5" height="9.42" fill="#dde6ee"/>
<rect x="297.0" y="378.50" width="215.5" height="9.43" fill="#bbcddd"/>
<rect x="297.0" y="386.73" width="215.5" height="9.43" fill="#dde6ee"/>
<rect x="297.0" y="394.95" width="215.5" height="9.42" fill="#bbcddd"/>
<rect x="297.0" y="403.18" width="215.5" height="9.43" fill="#dde6ee"/>
<rect x="297.0" y="411.40" width="215.5" height="9.42" fill="#bbcddd"/>
<rect x="297.0" y="419.62" width="215.5" height="9.43" fill="#dde6ee"/>
<rect x="297.0" y="427.85" width="215.5" height="9.43" fill="#bbcddd"/>
<rect x="297.0" y="436.08" width="215.5" height="8.22" fill="#dde6ee"/>
<rect x="297.0" y="325.1" width="215.5" height="20.5" fill="#125386"/>
<g fill="#dfe8f2">
<text transform="translate(301.40 333.50) rotate(0.05)" font-size="6.20" textLength="25.53" lengthAdjust="spacingAndGlyphs">Follow-up</text>
<text transform="translate(301.40 340.70) rotate(0.05)" font-size="6.20" textLength="18.33" lengthAdjust="spacingAndGlyphs">(years)</text>
<text transform="translate(370.56 333.50) rotate(0.05)" font-size="6.20" text-anchor="middle" textLength="32.08" lengthAdjust="spacingAndGlyphs">No. of major</text>
<text transform="translate(370.56 340.70) rotate(0.05)" font-size="6.20" text-anchor="middle" textLength="17.36" lengthAdjust="spacingAndGlyphs">bleeds</text>
<text transform="translate(415.42 333.50) rotate(0.05)" font-size="6.20" text-anchor="middle" textLength="36.67" lengthAdjust="spacingAndGlyphs">No. remaining</text>
<text transform="translate(415.42 340.70) rotate(0.05)" font-size="6.20" text-anchor="middle" textLength="22.59" lengthAdjust="spacingAndGlyphs">in cohort</text>
<text transform="translate(476.42 333.50) rotate(0.05)" font-size="6.20" text-anchor="middle" textLength="64.50" lengthAdjust="spacingAndGlyphs">Cumulative incidence, %</text>
<text transform="translate(476.42 340.70) rotate(0.05)" font-size="6.20" text-anchor="middle" textLength="23.24" lengthAdjust="spacingAndGlyphs">(95% CI)</text>
</g>
<text transform="translate(301.40 351.70) rotate(0.05)" font-size="6.20" textLength="44.19" lengthAdjust="spacingAndGlyphs">Low-risk patients</text>
<text transform="translate(301.40 359.93) rotate(0.05)" font-size="6.20" textLength="3.62" lengthAdjust="spacingAndGlyphs">1</text>
<text transform="translate(370.56 359.93) rotate(0.05)" font-size="6.20" text-anchor="middle" textLength="7.24" lengthAdjust="spacingAndGlyphs">37</text>
<text transform="translate(415.42 359.93) rotate(0.05)" font-size="6.20" text-anchor="middle" textLength="14.48" lengthAdjust="spacingAndGlyphs">1996</text>
<text transform="translate(476.42 359.93) rotate(0.05)" font-size="6.20" text-anchor="middle" textLength="35.33" lengthAdjust="spacingAndGlyphs">1.7 (1.3–2.4)</text>
<text transform="translate(301.40 368.15) rotate(0.05)" font-size="6.20" textLength="3.62" lengthAdjust="spacingAndGlyphs">2</text>
<text transform="translate(370.56 368.15) rotate(0.05)" font-size="6.20" text-anchor="middle" textLength="7.24" lengthAdjust="spacingAndGlyphs">26</text>
<text transform="translate(415.42 368.15) rotate(0.05)" font-size="6.20" text-anchor="middle" textLength="14.48" lengthAdjust="spacingAndGlyphs">1526</text>
<text transform="translate(476.42 368.15) rotate(0.05)" font-size="6.20" text-anchor="middle" textLength="35.33" lengthAdjust="spacingAndGlyphs">3.2 (2.5–4.0)</text>
<text transform="translate(301.40 376.38) rotate(0.05)" font-size="6.20" textLength="3.62" lengthAdjust="spacingAndGlyphs">3</text>
<text transform="translate(370.56 376.38) rotate(0.05)" font-size="6.20" text-anchor="middle" textLength="6.76" lengthAdjust="spacingAndGlyphs">11</text>
<text transform="translate(415.42 376.38) rotate(0.05)" font-size="6.20" text-anchor="middle" textLength="14.48" lengthAdjust="spacingAndGlyphs">1039</text>
<text transform="translate(476.42 376.38) rotate(0.05)" font-size="6.20" text-anchor="middle" textLength="35.33" lengthAdjust="spacingAndGlyphs">4.0 (3.2–5.0)</text>
<text transform="translate(301.40 384.60) rotate(0.05)" font-size="6.20" textLength="3.62" lengthAdjust="spacingAndGlyphs">4</text>
<text transform="translate(370.56 384.60) rotate(0.05)" font-size="6.20" text-anchor="middle" textLength="6.76" lengthAdjust="spacingAndGlyphs">11</text>
<text transform="translate(415.42 384.60) rotate(0.05)" font-size="6.20" text-anchor="middle" textLength="10.86" lengthAdjust="spacingAndGlyphs">501</text>
<text transform="translate(476.42 384.60) rotate(0.05)" font-size="6.20" text-anchor="middle" textLength="35.33" lengthAdjust="spacingAndGlyphs">5.4 (4.3–6.7)</text>
<text transform="translate(301.40 392.83) rotate(0.05)" font-size="6.20" textLength="3.62" lengthAdjust="spacingAndGlyphs">5</text>
<text transform="translate(370.56 392.83) rotate(0.05)" font-size="6.20" text-anchor="middle" textLength="3.62" lengthAdjust="spacingAndGlyphs">6</text>
<text transform="translate(415.42 392.83) rotate(0.05)" font-size="6.20" text-anchor="middle" textLength="10.86" lengthAdjust="spacingAndGlyphs">217</text>
<text transform="translate(476.42 392.83) rotate(0.05)" font-size="6.20" text-anchor="middle" textLength="35.33" lengthAdjust="spacingAndGlyphs">6.9 (5.4–8.9)</text>
<text transform="translate(301.40 401.05) rotate(0.05)" font-size="6.20" textLength="45.50" lengthAdjust="spacingAndGlyphs">High-risk patients</text>
<text transform="translate(301.40 409.28) rotate(0.05)" font-size="6.20" textLength="3.62" lengthAdjust="spacingAndGlyphs">1</text>
<text transform="translate(370.56 409.28) rotate(0.05)" font-size="6.20" text-anchor="middle" textLength="3.62" lengthAdjust="spacingAndGlyphs">9</text>
<text transform="translate(415.42 409.28) rotate(0.05)" font-size="6.20" text-anchor="middle" textLength="10.86" lengthAdjust="spacingAndGlyphs">148</text>
<text transform="translate(476.42 409.28) rotate(0.05)" font-size="6.20" text-anchor="middle" textLength="35.33" lengthAdjust="spacingAndGlyphs">5.9 (2.8–9.9)</text>
<text transform="translate(301.40 417.50) rotate(0.05)" font-size="6.20" textLength="3.62" lengthAdjust="spacingAndGlyphs">2</text>
<text transform="translate(370.56 417.50) rotate(0.05)" font-size="6.20" text-anchor="middle" textLength="3.62" lengthAdjust="spacingAndGlyphs">7</text>
<text transform="translate(415.42 417.50) rotate(0.05)" font-size="6.20" text-anchor="middle" textLength="10.86" lengthAdjust="spacingAndGlyphs">101</text>
<text transform="translate(476.42 417.50) rotate(0.05)" font-size="6.20" text-anchor="middle" textLength="42.26" lengthAdjust="spacingAndGlyphs">10.5 (6.5–16.6)</text>
<text transform="translate(301.40 425.73) rotate(0.05)" font-size="6.20" textLength="3.62" lengthAdjust="spacingAndGlyphs">3</text>
<text transform="translate(370.56 425.73) rotate(0.05)" font-size="6.20" text-anchor="middle" textLength="3.62" lengthAdjust="spacingAndGlyphs">4</text>
<text transform="translate(415.42 425.73) rotate(0.05)" font-size="6.20" text-anchor="middle" textLength="7.24" lengthAdjust="spacingAndGlyphs">65</text>
<text transform="translate(476.42 425.73) rotate(0.05)" font-size="6.20" text-anchor="middle" textLength="42.26" lengthAdjust="spacingAndGlyphs">14.7 (9.6–22.2)</text>
<text transform="translate(301.40 433.95) rotate(0.05)" font-size="6.20" textLength="3.62" lengthAdjust="spacingAndGlyphs">4</text>
<text transform="translate(370.56 433.95) rotate(0.05)" font-size="6.20" text-anchor="middle" textLength="3.62" lengthAdjust="spacingAndGlyphs">2</text>
<text transform="translate(415.42 433.95) rotate(0.05)" font-size="6.20" text-anchor="middle" textLength="7.24" lengthAdjust="spacingAndGlyphs">28</text>
<text transform="translate(476.42 433.95) rotate(0.05)" font-size="6.20" text-anchor="middle" textLength="45.27" lengthAdjust="spacingAndGlyphs">18.3 (11.9–27.5)</text>
<text transform="translate(301.40 442.18) rotate(0.05)" font-size="6.20" textLength="3.62" lengthAdjust="spacingAndGlyphs">5</text>
<text transform="translate(370.56 442.18) rotate(0.05)" font-size="6.20" text-anchor="middle" textLength="3.62" lengthAdjust="spacingAndGlyphs">1</text>
<text transform="translate(415.42 442.18) rotate(0.05)" font-size="6.20" text-anchor="middle" textLength="3.62" lengthAdjust="spacingAndGlyphs">8</text>
<text transform="translate(476.42 442.18) rotate(0.05)" font-size="6.20" text-anchor="middle" textLength="45.73" lengthAdjust="spacingAndGlyphs">22.7 (13.7–36.2)</text>
<path d="M297.6 258.1 V291.2 H512.4" stroke="#000" stroke-width="1.35" fill="none"/>
<path d="M294.3 289.9 H297.6 M294.3 279.3 H297.6 M294.3 268.7 H297.6 M295.0 284.6 H297.6 M295.0 274.0 H297.6 M295.0 263.4 H297.6 M305.5 291.2 V294.2 M345.6 291.2 V294.2 M385.8 291.2 V294.2 M425.9 291.2 V294.2 M466.1 291.2 V294.2 M506.2 291.2 V294.2" stroke="#000" stroke-width="1.15" fill="none"/>
<path d="M305.4 289.7 L315.0 289.2 L325.0 288.6 L335.0 288.1 L345.0 287.8 L360.0 287.4 L375.0 287.0 L390.0 286.6 L405.0 286.1 L425.0 285.4 L440.0 284.8 L447.0 284.4 L465.0 283.6 L479.0 282.9 L495.5 282.7 L500.0 281.8 L505.4 281.7" stroke="#1a548a" stroke-width="1.5" stroke-linejoin="round" fill="none"/>
<path d="M305.4 289.7 L309.0 289.0 L312.0 288.6 L315.0 288.0 L318.0 287.6 L321.0 287.0 L324.0 286.6 L327.0 286.0 L330.0 285.6 L332.0 285.2 L332.8 283.9 L349.0 283.8 L349.7 282.7 L363.2 282.7 L363.6 281.7 L368.5 281.7 L368.9 280.6 L371.8 280.6 L372.0 279.3 L374.8 279.3 L375.2 277.9 L388.6 277.9 L389.0 276.8 L396.0 276.8 L396.4 275.8 L419.4 275.8 L419.6 274.3 L421.8 274.3 L422.0 272.9 L428.3 272.9 L428.5 271.1 L437.8 271.1 L438.0 269.3 L466.2 269.3 L466.4 265.3 L506.4 265.3" stroke="#c9193b" stroke-width="1.5" stroke-linejoin="round" fill="none"/>
<path d="M300.8 256.5 H307.2" stroke="#c9193b" stroke-width="1.5"/>
<path d="M300.8 264.6 H307.2" stroke="#1a548a" stroke-width="1.5"/>
<text transform="translate(309.80 258.40) rotate(0.05)" font-size="6.90" textLength="53.00" lengthAdjust="spacingAndGlyphs">High-risk patients</text>
<text transform="translate(309.80 266.50) rotate(0.05)" font-size="6.90" textLength="51.48" lengthAdjust="spacingAndGlyphs">Low-risk patients</text>
<text transform="translate(449.80 277.00) rotate(0.05)" font-size="6.90" textLength="54.60" lengthAdjust="spacingAndGlyphs">Log-rank p&lt;.0001</text>
<text transform="translate(265.2 242.0) rotate(0.05)" font-size="11.2" class="pl">D</text>
<text transform="translate(291.60 292.00) rotate(0.05)" font-size="6.20" text-anchor="end">0</text>
<text transform="translate(291.60 281.40) rotate(0.05)" font-size="6.20" text-anchor="end">10</text>
<text transform="translate(291.60 270.80) rotate(0.05)" font-size="6.20" text-anchor="end">20</text>
<text transform="translate(305.50 301.80) rotate(0.05)" font-size="6.20" text-anchor="middle">0</text>
<text transform="translate(345.65 301.80) rotate(0.05)" font-size="6.20" text-anchor="middle">1</text>
<text transform="translate(385.80 301.80) rotate(0.05)" font-size="6.20" text-anchor="middle">2</text>
<text transform="translate(425.95 301.80) rotate(0.05)" font-size="6.20" text-anchor="middle">3</text>
<text transform="translate(466.10 301.80) rotate(0.05)" font-size="6.20" text-anchor="middle">4</text>
<text transform="translate(506.25 301.80) rotate(0.05)" font-size="6.20" text-anchor="middle">5</text>
<text transform="translate(383.98 313.10) rotate(0.05)" font-size="8.30" textLength="24.20" lengthAdjust="spacingAndGlyphs" class="ti">Follow-up</text>
<text transform="translate(410.48 313.10) rotate(0.05)" font-size="8.30" textLength="17.50" lengthAdjust="spacingAndGlyphs" class="ti">(years)</text>
<text transform="translate(270.60 301.10) rotate(-89.95)" font-size="8.30" textLength="26.77" lengthAdjust="spacingAndGlyphs" class="ti">Cumulative</text>
<text transform="translate(270.60 272.58) rotate(-89.95)" font-size="8.30" textLength="23.38" lengthAdjust="spacingAndGlyphs" class="ti">incidence</text>
<text transform="translate(279.80 302.00) rotate(-89.95)" font-size="8.30" textLength="4.73" lengthAdjust="spacingAndGlyphs" class="ti">of</text>
<text transform="translate(279.80 295.20) rotate(-89.95)" font-size="8.30" textLength="13.60" lengthAdjust="spacingAndGlyphs" class="ti">major</text>
<text transform="translate(279.80 279.53) rotate(-89.95)" font-size="8.30" textLength="20.50" lengthAdjust="spacingAndGlyphs" class="ti">bleeding</text>
<text transform="translate(279.80 256.77) rotate(-89.95)" font-size="8.30" textLength="8.97" lengthAdjust="spacingAndGlyphs" class="ti">(%)</text>
</g>
<g id="panel-E">
<rect x="173.8" y="569.70" width="215.8" height="11.44" fill="#bbcddd"/>
<rect x="173.8" y="579.94" width="215.8" height="9.44" fill="#dde6ee"/>
<rect x="173.8" y="588.18" width="215.8" height="9.44" fill="#bbcddd"/>
<rect x="173.8" y="596.43" width="215.8" height="9.44" fill="#dde6ee"/>
<rect x="173.8" y="604.67" width="215.8" height="9.44" fill="#bbcddd"/>
<rect x="173.8" y="612.91" width="215.8" height="9.44" fill="#dde6ee"/>
<rect x="173.8" y="621.15" width="215.8" height="9.44" fill="#bbcddd"/>
<rect x="173.8" y="629.39" width="215.8" height="9.44" fill="#dde6ee"/>
<rect x="173.8" y="637.63" width="215.8" height="9.44" fill="#bbcddd"/>
<rect x="173.8" y="645.88" width="215.8" height="9.44" fill="#dde6ee"/>
<rect x="173.8" y="654.12" width="215.8" height="9.44" fill="#bbcddd"/>
<rect x="173.8" y="662.36" width="215.8" height="8.24" fill="#dde6ee"/>
<rect x="173.8" y="551.2" width="215.8" height="20.5" fill="#125386"/>
<g fill="#dfe8f2">
<text transform="translate(178.20 559.60) rotate(0.05)" font-size="6.20" textLength="25.53" lengthAdjust="spacingAndGlyphs">Follow-up</text>
<text transform="translate(178.20 566.80) rotate(0.05)" font-size="6.20" textLength="18.33" lengthAdjust="spacingAndGlyphs">(years)</text>
<text transform="translate(247.46 559.60) rotate(0.05)" font-size="6.20" text-anchor="middle" textLength="32.08" lengthAdjust="spacingAndGlyphs">No. of major</text>
<text transform="translate(247.46 566.80) rotate(0.05)" font-size="6.20" text-anchor="middle" textLength="17.36" lengthAdjust="spacingAndGlyphs">bleeds</text>
<text transform="translate(292.38 559.60) rotate(0.05)" font-size="6.20" text-anchor="middle" textLength="36.67" lengthAdjust="spacingAndGlyphs">No. remaining</text>
<text transform="translate(292.38 566.80) rotate(0.05)" font-size="6.20" text-anchor="middle" textLength="22.59" lengthAdjust="spacingAndGlyphs">in cohort</text>
<text transform="translate(353.47 559.60) rotate(0.05)" font-size="6.20" text-anchor="middle" textLength="64.50" lengthAdjust="spacingAndGlyphs">Cumulative incidence, %</text>
<text transform="translate(353.47 566.80) rotate(0.05)" font-size="6.20" text-anchor="middle" textLength="23.24" lengthAdjust="spacingAndGlyphs">(95% CI)</text>
</g>
<text transform="translate(178.20 577.80) rotate(0.05)" font-size="6.20" textLength="44.19" lengthAdjust="spacingAndGlyphs">Low-risk patients</text>
<text transform="translate(178.20 586.04) rotate(0.05)" font-size="6.20" textLength="3.62" lengthAdjust="spacingAndGlyphs">1</text>
<text transform="translate(247.46 586.04) rotate(0.05)" font-size="6.20" text-anchor="middle" textLength="7.24" lengthAdjust="spacingAndGlyphs">47</text>
<text transform="translate(292.38 586.04) rotate(0.05)" font-size="6.20" text-anchor="middle" textLength="14.48" lengthAdjust="spacingAndGlyphs">2169</text>
<text transform="translate(353.47 586.04) rotate(0.05)" font-size="6.20" text-anchor="middle" textLength="35.33" lengthAdjust="spacingAndGlyphs">2.0 (1.5–2.7)</text>
<text transform="translate(178.20 594.28) rotate(0.05)" font-size="6.20" textLength="3.62" lengthAdjust="spacingAndGlyphs">2</text>
<text transform="translate(247.46 594.28) rotate(0.05)" font-size="6.20" text-anchor="middle" textLength="7.24" lengthAdjust="spacingAndGlyphs">32</text>
<text transform="translate(292.38 594.28) rotate(0.05)" font-size="6.20" text-anchor="middle" textLength="14.48" lengthAdjust="spacingAndGlyphs">1638</text>
<text transform="translate(353.47 594.28) rotate(0.05)" font-size="6.20" text-anchor="middle" textLength="35.33" lengthAdjust="spacingAndGlyphs">3.6 (2.9–4.5)</text>
<text transform="translate(178.20 602.53) rotate(0.05)" font-size="6.20" textLength="3.62" lengthAdjust="spacingAndGlyphs">3</text>
<text transform="translate(247.46 602.53) rotate(0.05)" font-size="6.20" text-anchor="middle" textLength="7.24" lengthAdjust="spacingAndGlyphs">16</text>
<text transform="translate(292.38 602.53) rotate(0.05)" font-size="6.20" text-anchor="middle" textLength="13.52" lengthAdjust="spacingAndGlyphs">1113</text>
<text transform="translate(353.47 602.53) rotate(0.05)" font-size="6.20" text-anchor="middle" textLength="35.33" lengthAdjust="spacingAndGlyphs">4.8 (3.9–5.8)</text>
<text transform="translate(178.20 610.77) rotate(0.05)" font-size="6.20" textLength="3.62" lengthAdjust="spacingAndGlyphs">4</text>
<text transform="translate(247.46 610.77) rotate(0.05)" font-size="6.20" text-anchor="middle" textLength="7.24" lengthAdjust="spacingAndGlyphs">12</text>
<text transform="translate(292.38 610.77) rotate(0.05)" font-size="6.20" text-anchor="middle" textLength="10.86" lengthAdjust="spacingAndGlyphs">530</text>
<text transform="translate(353.47 610.77) rotate(0.05)" font-size="6.20" text-anchor="middle" textLength="35.33" lengthAdjust="spacingAndGlyphs">6.1 (5.0–7.5)</text>
<text transform="translate(178.20 619.01) rotate(0.05)" font-size="6.20" textLength="3.62" lengthAdjust="spacingAndGlyphs">5</text>
<text transform="translate(247.46 619.01) rotate(0.05)" font-size="6.20" text-anchor="middle" textLength="3.62" lengthAdjust="spacingAndGlyphs">7</text>
<text transform="translate(292.38 619.01) rotate(0.05)" font-size="6.20" text-anchor="middle" textLength="10.86" lengthAdjust="spacingAndGlyphs">225</text>
<text transform="translate(353.47 619.01) rotate(0.05)" font-size="6.20" text-anchor="middle" textLength="35.33" lengthAdjust="spacingAndGlyphs">7.9 (6.3–9.8)</text>
<text transform="translate(178.20 627.25) rotate(0.05)" font-size="6.20" textLength="45.50" lengthAdjust="spacingAndGlyphs">High-risk patients</text>
<text transform="translate(178.20 635.49) rotate(0.05)" font-size="6.20" textLength="3.62" lengthAdjust="spacingAndGlyphs">1</text>
<text transform="translate(247.46 635.49) rotate(0.05)" font-size="6.20" text-anchor="middle" textLength="3.62" lengthAdjust="spacingAndGlyphs">1</text>
<text transform="translate(292.38 635.49) rotate(0.05)" font-size="6.20" text-anchor="middle" textLength="7.24" lengthAdjust="spacingAndGlyphs">33</text>
<text transform="translate(353.47 635.49) rotate(0.05)" font-size="6.20" text-anchor="middle" textLength="38.80" lengthAdjust="spacingAndGlyphs">2.7 (0.4–17.9)</text>
<text transform="translate(178.20 643.73) rotate(0.05)" font-size="6.20" textLength="3.62" lengthAdjust="spacingAndGlyphs">2</text>
<text transform="translate(247.46 643.73) rotate(0.05)" font-size="6.20" text-anchor="middle" textLength="3.62" lengthAdjust="spacingAndGlyphs">1</text>
<text transform="translate(292.38 643.73) rotate(0.05)" font-size="6.20" text-anchor="middle" textLength="7.24" lengthAdjust="spacingAndGlyphs">19</text>
<text transform="translate(353.47 643.73) rotate(0.05)" font-size="6.20" text-anchor="middle" textLength="38.80" lengthAdjust="spacingAndGlyphs">6.4 (1.6–23.6)</text>
<text transform="translate(178.20 651.98) rotate(0.05)" font-size="6.20" textLength="3.62" lengthAdjust="spacingAndGlyphs">3</text>
<text transform="translate(247.46 651.98) rotate(0.05)" font-size="6.20" text-anchor="middle" textLength="3.62" lengthAdjust="spacingAndGlyphs">0</text>
<text transform="translate(292.38 651.98) rotate(0.05)" font-size="6.20" text-anchor="middle" textLength="3.62" lengthAdjust="spacingAndGlyphs">9</text>
<text transform="translate(353.47 651.98) rotate(0.05)" font-size="6.20" text-anchor="middle" textLength="38.80" lengthAdjust="spacingAndGlyphs">6.4 (1.6–23.6)</text>
<text transform="translate(178.20 660.22) rotate(0.05)" font-size="6.20" textLength="3.62" lengthAdjust="spacingAndGlyphs">4</text>
<text transform="translate(247.46 660.22) rotate(0.05)" font-size="6.20" text-anchor="middle" textLength="3.62" lengthAdjust="spacingAndGlyphs">2</text>
<text transform="translate(292.38 660.22) rotate(0.05)" font-size="6.20" text-anchor="middle" textLength="3.62" lengthAdjust="spacingAndGlyphs">3</text>
<text transform="translate(353.47 660.22) rotate(0.05)" font-size="6.20" text-anchor="middle" textLength="45.27" lengthAdjust="spacingAndGlyphs">33.1 (11.6–73.2)</text>
<text transform="translate(178.20 668.46) rotate(0.05)" font-size="6.20" textLength="3.62" lengthAdjust="spacingAndGlyphs">5</text>
<text transform="translate(247.46 668.46) rotate(0.05)" font-size="6.20" text-anchor="middle" textLength="3.62" lengthAdjust="spacingAndGlyphs">0</text>
<text transform="translate(292.38 668.46) rotate(0.05)" font-size="6.20" text-anchor="middle" textLength="3.62" lengthAdjust="spacingAndGlyphs">0</text>
<text transform="translate(353.47 668.46) rotate(0.05)" font-size="6.20" text-anchor="middle" textLength="45.27" lengthAdjust="spacingAndGlyphs">33.1 (11.6–73.2)</text>
<path d="M173.9 487.0 V520.4 H388.7" stroke="#000" stroke-width="1.35" fill="none"/>
<path d="M170.6 519.2 H173.9 M170.6 505.7 H173.9 M170.6 492.2 H173.9 M171.3 512.5 H173.9 M171.3 499.0 H173.9 M181.7 520.4 V523.4 M221.7 520.4 V523.4 M261.7 520.4 V523.4 M301.7 520.4 V523.4 M341.7 520.4 V523.4 M381.7 520.4 V523.4" stroke="#000" stroke-width="1.15" fill="none"/>
<path d="M181.8 519.2 L198.0 519.0 L210.0 518.5 L218.3 518.2 L230.0 517.9 L239.0 517.6 L250.0 516.8 L260.6 516.1 L275.0 515.8 L286.0 515.5 L300.0 515.7 L314.0 515.5 L330.0 514.9 L342.0 514.4 L355.0 514.1 L369.6 513.8 L375.0 513.4 L381.8 512.9" stroke="#1a548a" stroke-width="1.5" stroke-linejoin="round" fill="none"/>
<path d="M181.8 519.2 L198.6 519.2 L198.6 517.6 L239.4 517.6 L239.4 514.8 L314.0 514.8 L314.0 507.7 L323.0 507.7 L323.0 493.7 L361.5 493.7" stroke="#c9193b" stroke-width="1.5" stroke-linejoin="round" fill="none"/>
<path d="M178.8 492.2 H185.1" stroke="#c9193b" stroke-width="1.5"/>
<path d="M178.8 500.7 H185.1" stroke="#1a548a" stroke-width="1.5"/>
<text transform="translate(188.00 494.40) rotate(0.05)" font-size="6.90" textLength="53.30" lengthAdjust="spacingAndGlyphs">High-risk patients</text>
<text transform="translate(188.00 502.90) rotate(0.05)" font-size="6.90" textLength="51.77" lengthAdjust="spacingAndGlyphs">Low-risk patients</text>
<text transform="translate(328.30 505.60) rotate(0.05)" font-size="6.90" textLength="55.00" lengthAdjust="spacingAndGlyphs">Log-rank p=.0341</text>
<text transform="translate(136.9 468.8) rotate(0.05)" font-size="11.2" class="pl" textLength="6.35" lengthAdjust="spacingAndGlyphs">E</text>
<text transform="translate(167.90 521.30) rotate(0.05)" font-size="6.20" text-anchor="end">0</text>
<text transform="translate(167.90 507.80) rotate(0.05)" font-size="6.20" text-anchor="end">20</text>
<text transform="translate(167.90 494.30) rotate(0.05)" font-size="6.20" text-anchor="end">40</text>
<text transform="translate(181.70 531.00) rotate(0.05)" font-size="6.20" text-anchor="middle">0</text>
<text transform="translate(221.70 531.00) rotate(0.05)" font-size="6.20" text-anchor="middle">1</text>
<text transform="translate(261.70 531.00) rotate(0.05)" font-size="6.20" text-anchor="middle">2</text>
<text transform="translate(301.70 531.00) rotate(0.05)" font-size="6.20" text-anchor="middle">3</text>
<text transform="translate(341.70 531.00) rotate(0.05)" font-size="6.20" text-anchor="middle">4</text>
<text transform="translate(381.70 531.00) rotate(0.05)" font-size="6.20" text-anchor="middle">5</text>
<text transform="translate(259.20 542.60) rotate(0.05)" font-size="8.30" textLength="24.20" lengthAdjust="spacingAndGlyphs" class="ti">Follow-up</text>
<text transform="translate(285.70 542.60) rotate(0.05)" font-size="8.30" textLength="17.50" lengthAdjust="spacingAndGlyphs" class="ti">(years)</text>
<text transform="translate(146.70 530.40) rotate(-89.95)" font-size="8.30" textLength="27.45" lengthAdjust="spacingAndGlyphs" class="ti">Cumulative</text>
<text transform="translate(146.70 501.16) rotate(-89.95)" font-size="8.30" textLength="23.96" lengthAdjust="spacingAndGlyphs" class="ti">incidence</text>
<text transform="translate(156.00 530.40) rotate(-89.95)" font-size="8.30" textLength="4.73" lengthAdjust="spacingAndGlyphs" class="ti">of</text>
<text transform="translate(156.00 523.60) rotate(-89.95)" font-size="8.30" textLength="13.60" lengthAdjust="spacingAndGlyphs" class="ti">major</text>
<text transform="translate(156.00 507.93) rotate(-89.95)" font-size="8.30" textLength="20.50" lengthAdjust="spacingAndGlyphs" class="ti">bleeding</text>
<text transform="translate(156.00 485.17) rotate(-89.95)" font-size="8.30" textLength="8.97" lengthAdjust="spacingAndGlyphs" class="ti">(%)</text>
</g>
</svg>
<div id="frame"></div>
</body></html>
